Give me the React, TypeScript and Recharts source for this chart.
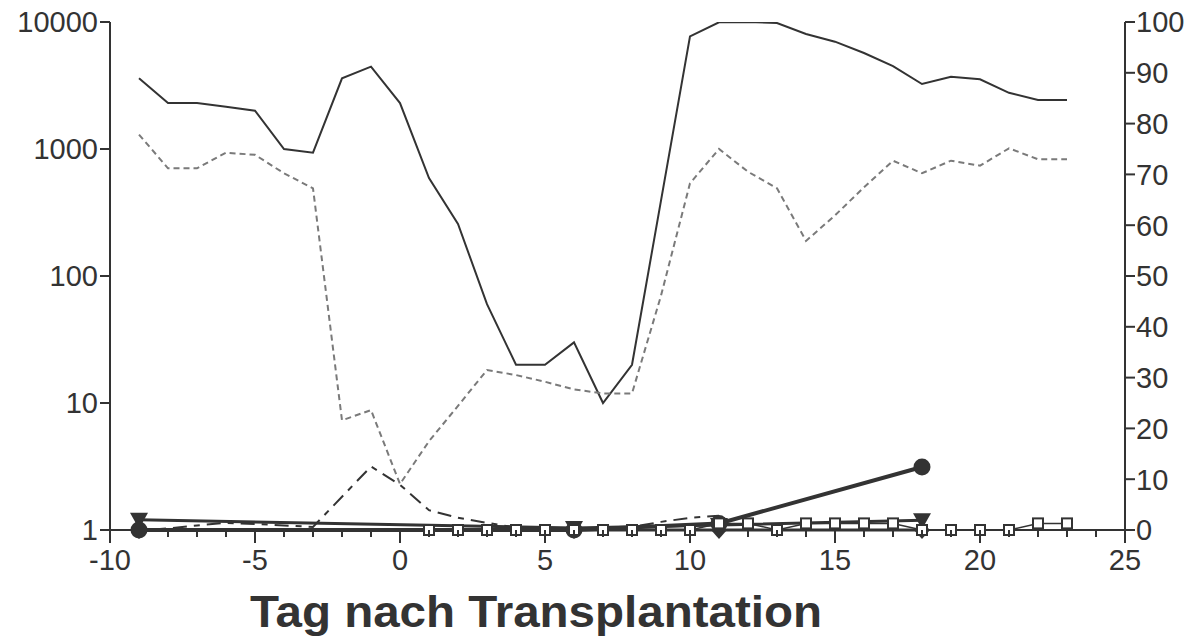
import React from "react";
import { LineChart, Line, XAxis, YAxis, Label } from "recharts";

// Tage nach Transplantation
const days = [
  -9, -8, -7, -6, -5, -4, -3, -2, -1, 0, 1, 2, 3, 4, 5, 6, 7,
  8, 9, 10, 11, 12, 13, 14, 15, 16, 17, 18, 19, 20, 21, 22, 23,
];

// linke Achse (log)
const leukozyten = [
  3600, 2300, 2300, 2150, 2000, 1000, 935, 3600, 4450,
  2300, 590, 257, 60, 20, 20, 30, 10, 20,
  null, 7700, 9950, 10000, 9800, 8050, 7000, 5700, 4500, 3250, 3700, 3540, 2770, 2430, 2430,
];
const granulozyten = [
  1300, 705, 705, 935, 900, 644, 490, 7.3, 8.8,
  2.3, 5, 9.5, 18.2, 16.6, 14.7, 12.8, 11.9, 11.9,
  70, 537, 1000, 662, 490, 189, 300, 500, 809, 644, 809, 739, 1013, 830, 830,
];

// rechte Achse (%)
const blasten = [
  0, 0.3, 0.9, 1.4, 1.2, 0.9, 0.6, null, 12.5,
  8.9, 3.9, 2.4, 1.4, 0.5, 0, 0, 0.2, 0.6,
  1.6, 2.4, 2.8, null, null, null, null, null, null, null, null, null, null, null, null,
];
const squareDays = [1, 2, 3, 4, 5, 6, 7, 8, 9, 10, 11, 12, 13, 14, 15, 16, 17, 18, 19, 20, 21, 22, 23];
const squareValues = [0, 0, 0, 0, 0, 0, 0, 0, 0, 0, 1.3, 1.3, 0, 1.3, 1.3, 1.3, 1.3, 0, 0, 0, 0, 1.3, 1.3];

const visitDays = [-9, 6, 11, 18];
const circleValues = [0, 0, 1.3, 12.4];
const triangleValues = [2.0, 0.4, 1.0, 1.9];
const diamondValues = [0, 0, 0, 0];

const xTicks = [
  -10, -9, -8, -7, -6, -5, -4, -3, -2, -1, 0, 1, 2, 3, 4, 5, 6, 7, 8, 9, 10, 11, 12,
  13, 14, 15, 16, 17, 18, 19, 20, 21, 22, 23, 24, 25,
];
const logTicks = [1, 10, 100, 1000, 10000];
const pctTicks = [0, 10, 20, 30, 40, 50, 60, 70, 80, 90, 100];

const pick = (ds: number[], vs: number[], d: number) => {
  const i = ds.indexOf(d);
  return i >= 0 ? vs[i] : null;
};

const data = days.map((d, i) => ({
  day: d,
  leuko: leukozyten[i],
  granulo: granulozyten[i],
  blasten: blasten[i],
  square: pick(squareDays, squareValues, d),
  circle: pick(visitDays, circleValues, d),
  triangle: pick(visitDays, triangleValues, d),
  diamond: pick(visitDays, diamondValues, d),
}));

const DARK = "#333333";
const GREY = "#7a7a7a";
const FONT = "'Liberation Sans', Arial, sans-serif";

const XTick = (props: any) => {
  const { x, y, payload } = props;
  const major = payload.value % 5 === 0;
  return (
    <g>
      <line x1={x} y1={y} x2={x} y2={y + (major ? 13 : 7)} stroke={DARK} strokeWidth={2} />
      {major && (
        <text x={x} y={y + 40} textAnchor="middle" fontFamily={FONT} fontSize={29} fill={DARK}>
          {payload.value}
        </text>
      )}
    </g>
  );
};

const YTick = (props: any) => {
  const { x, y, payload, textAnchor } = props;
  return (
    <text x={x} y={y} textAnchor={textAnchor} dy="0.36em" fontFamily={FONT} fontSize={29} fill={DARK}>
      {payload.value}
    </text>
  );
};

const renderTitle = () => (
  <text
    transform="translate(536,627) scale(1.08,1)"
    textAnchor="middle"
    fontFamily={FONT}
    fontSize={44}
    fontWeight="bold"
    fill={DARK}
  >
    Tag nach Transplantation
  </text>
);

const empty = (key: any) => <g key={key} />;

const CircleDot = (p: any) => {
  if (p.cy == null || p.value == null) return empty(p.key);
  return <circle key={p.key} cx={p.cx} cy={p.cy} r={8.5} fill={DARK} />;
};

const TriangleDot = (p: any) => {
  if (p.cy == null || p.value == null) return empty(p.key);
  const { cx, cy } = p;
  return (
    <polygon
      key={p.key}
      points={`${cx - 9},${cy - 7} ${cx + 9},${cy - 7} ${cx},${cy + 9}`}
      fill={DARK}
    />
  );
};

const DiamondDot = (p: any) => {
  if (p.cy == null || p.value == null) return empty(p.key);
  const { cx, cy } = p;
  return (
    <polygon
      key={p.key}
      points={`${cx},${cy - 8} ${cx + 8},${cy} ${cx},${cy + 9} ${cx - 8},${cy}`}
      fill={DARK}
    />
  );
};

const SquareDot = (p: any) => {
  if (p.cy == null || p.value == null) return empty(p.key);
  return (
    <rect
      key={p.key}
      x={p.cx - 5}
      y={p.cy - 5}
      width={10}
      height={10}
      fill="#ffffff"
      stroke={DARK}
      strokeWidth={2}
    />
  );
};

export default function App() {
  return (
    <div style={{ position: "absolute", left: 0, top: 0, background: "#fff" }}>
      <LineChart width={1200} height={640} data={data} margin={{ top: 22, right: 0, bottom: 0, left: 0 }}>
        <XAxis
          dataKey="day"
          type="number"
          domain={[-10, 25]}
          ticks={xTicks}
          interval={0}
          height={110}
          tickSize={0}
          tickMargin={0}
          tickLine={false}
          tick={XTick}
          axisLine={{ stroke: DARK, strokeWidth: 2 }}
        >
          <Label content={renderTitle} />
        </XAxis>
        <YAxis
          yAxisId="log"
          scale="log"
          type="number"
          domain={[1, 10000]}
          ticks={logTicks}
          allowDataOverflow
          width={110}
          tickSize={10}
          tickMargin={2}
          tick={YTick}
          tickLine={{ stroke: DARK, strokeWidth: 2 }}
          axisLine={{ stroke: DARK, strokeWidth: 2 }}
        />
        <YAxis
          yAxisId="pct"
          orientation="right"
          type="number"
          domain={[0, 100]}
          ticks={pctTicks}
          width={75}
          tickSize={10}
          tickMargin={1}
          tick={YTick}
          tickLine={{ stroke: DARK, strokeWidth: 2 }}
          axisLine={{ stroke: DARK, strokeWidth: 2 }}
        />

        <Line yAxisId="log" dataKey="leuko" stroke={DARK} strokeWidth={2} dot={false} connectNulls isAnimationActive={false} />
        <Line yAxisId="log" dataKey="granulo" stroke={GREY} strokeWidth={2} strokeDasharray="6 4" dot={false} connectNulls isAnimationActive={false} />
        <Line yAxisId="pct" dataKey="blasten" stroke={DARK} strokeWidth={2} strokeDasharray="14 7 6 7" dot={false} connectNulls isAnimationActive={false} />
        <Line yAxisId="pct" dataKey="diamond" stroke={DARK} strokeWidth={3} dot={DiamondDot} connectNulls isAnimationActive={false} />
        <Line yAxisId="pct" dataKey="triangle" stroke={DARK} strokeWidth={3} dot={TriangleDot} connectNulls isAnimationActive={false} />
        <Line yAxisId="pct" dataKey="circle" stroke={DARK} strokeWidth={4} dot={CircleDot} connectNulls isAnimationActive={false} />
        <Line yAxisId="pct" dataKey="square" stroke={DARK} strokeWidth={1.5} dot={SquareDot} connectNulls isAnimationActive={false} />
      </LineChart>
    </div>
  );
}
